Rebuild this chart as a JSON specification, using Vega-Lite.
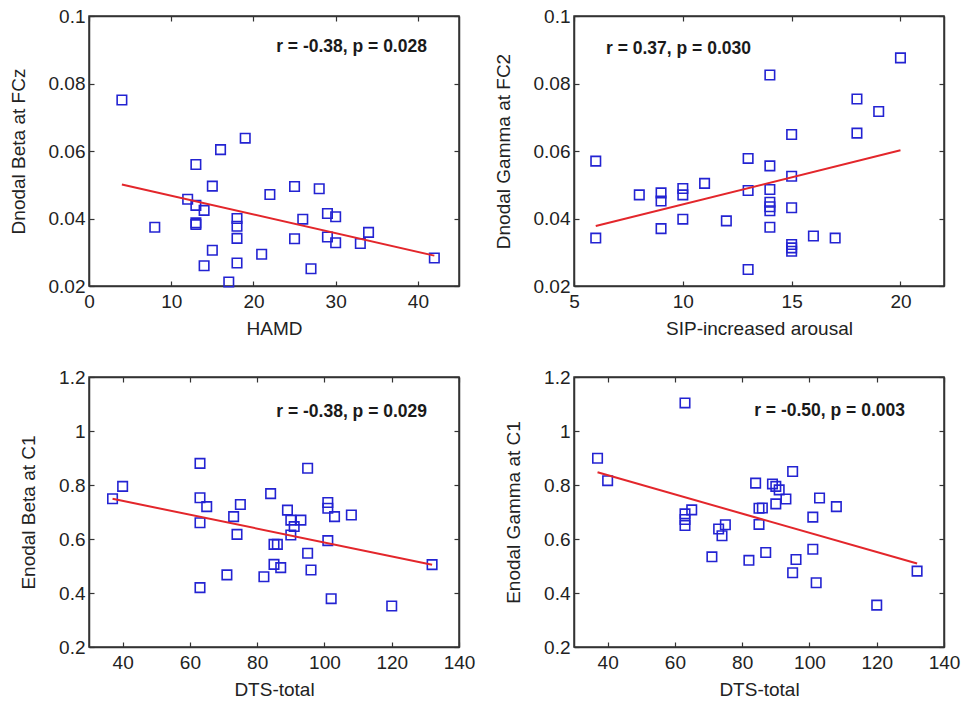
{
  "$schema": "https://vega.github.io/schema/vega-lite/v6.json",
  "padding": {"left": 8, "top": 6, "right": 5, "bottom": 2},
  "datasets": {
    "hamd": [
      {"x": 4, "y": 0.0751}, {"x": 19, "y": 0.0638}, {"x": 16, "y": 0.0604}, {"x": 13, "y": 0.056},
      {"x": 15, "y": 0.0496}, {"x": 25, "y": 0.0495}, {"x": 28, "y": 0.0488}, {"x": 22, "y": 0.0471},
      {"x": 12, "y": 0.0457}, {"x": 13, "y": 0.0439}, {"x": 14, "y": 0.0424}, {"x": 29, "y": 0.0415},
      {"x": 30, "y": 0.0405}, {"x": 18, "y": 0.04}, {"x": 26, "y": 0.0398}, {"x": 18, "y": 0.0377},
      {"x": 13, "y": 0.0387}, {"x": 13, "y": 0.0382}, {"x": 8, "y": 0.0374}, {"x": 34, "y": 0.0359},
      {"x": 18, "y": 0.0341}, {"x": 25, "y": 0.034}, {"x": 29, "y": 0.0345}, {"x": 30, "y": 0.0328},
      {"x": 33, "y": 0.0326}, {"x": 15, "y": 0.0306}, {"x": 21, "y": 0.0294}, {"x": 18, "y": 0.0268},
      {"x": 14, "y": 0.026}, {"x": 27, "y": 0.0251}, {"x": 17, "y": 0.0212}, {"x": 42, "y": 0.0283}
    ],
    "hamdLine": [{"x": 4, "y": 0.0501}, {"x": 42, "y": 0.029}],
    "sip": [
      {"x": 20, "y": 0.0876}, {"x": 14, "y": 0.0825}, {"x": 18, "y": 0.0754}, {"x": 19, "y": 0.0717},
      {"x": 18, "y": 0.0653}, {"x": 15, "y": 0.0649}, {"x": 6, "y": 0.057}, {"x": 13, "y": 0.0578},
      {"x": 14, "y": 0.0556}, {"x": 15, "y": 0.0525}, {"x": 11, "y": 0.0504}, {"x": 10, "y": 0.0489},
      {"x": 10, "y": 0.047}, {"x": 8, "y": 0.047}, {"x": 9, "y": 0.0476}, {"x": 9, "y": 0.0452},
      {"x": 13, "y": 0.0483}, {"x": 14, "y": 0.0486}, {"x": 14, "y": 0.0448}, {"x": 14, "y": 0.0435},
      {"x": 14, "y": 0.0423}, {"x": 15, "y": 0.0432}, {"x": 10, "y": 0.0398}, {"x": 12, "y": 0.0393},
      {"x": 9, "y": 0.037}, {"x": 14, "y": 0.0374}, {"x": 6, "y": 0.0342}, {"x": 16, "y": 0.0348},
      {"x": 17, "y": 0.0342}, {"x": 15, "y": 0.0323}, {"x": 15, "y": 0.0313}, {"x": 15, "y": 0.0303},
      {"x": 13, "y": 0.0249}
    ],
    "sipLine": [{"x": 6, "y": 0.0378}, {"x": 20, "y": 0.0602}],
    "dtsBeta": [
      {"x": 37, "y": 0.749}, {"x": 40, "y": 0.795}, {"x": 63, "y": 0.88}, {"x": 63, "y": 0.753},
      {"x": 65, "y": 0.72}, {"x": 63, "y": 0.66}, {"x": 63, "y": 0.42}, {"x": 75, "y": 0.728},
      {"x": 73, "y": 0.683}, {"x": 74, "y": 0.617}, {"x": 71, "y": 0.467}, {"x": 84, "y": 0.768},
      {"x": 89, "y": 0.707}, {"x": 90, "y": 0.67}, {"x": 93, "y": 0.67}, {"x": 91, "y": 0.646},
      {"x": 90, "y": 0.615}, {"x": 85, "y": 0.58}, {"x": 86, "y": 0.58}, {"x": 85, "y": 0.506},
      {"x": 87, "y": 0.494}, {"x": 82, "y": 0.46}, {"x": 95, "y": 0.862}, {"x": 95, "y": 0.547},
      {"x": 96, "y": 0.485}, {"x": 101, "y": 0.735}, {"x": 101, "y": 0.714}, {"x": 103, "y": 0.683},
      {"x": 108, "y": 0.689}, {"x": 101, "y": 0.594}, {"x": 102, "y": 0.379}, {"x": 120, "y": 0.352},
      {"x": 132, "y": 0.505}
    ],
    "dtsBetaLine": [{"x": 37, "y": 0.749}, {"x": 132, "y": 0.505}],
    "dtsGamma": [
      {"x": 63, "y": 1.104}, {"x": 37, "y": 0.899}, {"x": 40, "y": 0.816}, {"x": 63, "y": 0.693},
      {"x": 63, "y": 0.672}, {"x": 63, "y": 0.65}, {"x": 65, "y": 0.708}, {"x": 73, "y": 0.637},
      {"x": 75, "y": 0.653}, {"x": 74, "y": 0.612}, {"x": 71, "y": 0.534}, {"x": 82, "y": 0.521},
      {"x": 84, "y": 0.807}, {"x": 85, "y": 0.714}, {"x": 86, "y": 0.715}, {"x": 85, "y": 0.654},
      {"x": 87, "y": 0.55}, {"x": 89, "y": 0.804}, {"x": 90, "y": 0.795}, {"x": 91, "y": 0.782},
      {"x": 90, "y": 0.73}, {"x": 93, "y": 0.748}, {"x": 95, "y": 0.85}, {"x": 96, "y": 0.524},
      {"x": 95, "y": 0.475}, {"x": 101, "y": 0.681}, {"x": 103, "y": 0.752}, {"x": 108, "y": 0.72},
      {"x": 101, "y": 0.562}, {"x": 102, "y": 0.438}, {"x": 120, "y": 0.355}, {"x": 132, "y": 0.481}
    ],
    "dtsGammaLine": [{"x": 37, "y": 0.847}, {"x": 132, "y": 0.509}]
  },
  "columns": 2,
  "spacing": {"row": 91, "column": 115},
  "bounds": "flush",
  "concat": [
    {
      "width": 370, "height": 270,
      "layer": [
        {
          "data": {"name": "hamd"},
          "mark": {"type": "point", "shape": "square", "filled": false, "size": 90, "color": "#2323d2", "strokeWidth": 1.6, "opacity": 1},
          "encoding": {
            "x": {"field": "x", "type": "quantitative", "scale": {"domain": [0, 45], "nice": false, "zero": false},
                  "axis": {"title": "HAMD", "values": [0, 10, 20, 30, 40], "format": "d"}},
            "y": {"field": "y", "type": "quantitative", "scale": {"domain": [0.02, 0.1], "nice": false, "zero": false},
                  "axis": {"title": "Dnodal Beta at FCz", "values": [0.02, 0.04, 0.06, 0.08, 0.1], "format": ".2~f"}}
          }
        },
        {
          "data": {"name": "hamdLine"},
          "mark": {"type": "line", "color": "#e3262b", "strokeWidth": 2},
          "encoding": {
            "x": {"field": "x", "type": "quantitative", "axis": {"orient": "top", "labels": false, "title": null, "values": [0, 10, 20, 30, 40]}},
            "y": {"field": "y", "type": "quantitative", "axis": {"orient": "right", "labels": false, "title": null, "values": [0.02, 0.04, 0.06, 0.08, 0.1]}}
          }
        },
        {
          "data": {"values": [{"label": "r = -0.38, p = 0.028"}]},
          "mark": {"type": "text", "align": "right", "baseline": "middle", "font": "Liberation Sans", "fontWeight": "bold", "fontSize": 17.5, "color": "#1a1a1a"},
          "encoding": {
            "text": {"field": "label"},
            "x": {"datum": 41.1, "type": "quantitative", "axis": null},
            "y": {"datum": 0.0909, "type": "quantitative", "axis": null}
          }
        }
      ],
      "resolve": {"axis": {"x": "independent", "y": "independent"}}
    },
    {
      "width": 370, "height": 270,
      "layer": [
        {
          "data": {"name": "sip"},
          "mark": {"type": "point", "shape": "square", "filled": false, "size": 90, "color": "#2323d2", "strokeWidth": 1.6, "opacity": 1},
          "encoding": {
            "x": {"field": "x", "type": "quantitative", "scale": {"domain": [5, 22], "nice": false, "zero": false},
                  "axis": {"title": "SIP-increased arousal", "values": [5, 10, 15, 20], "format": "d"}},
            "y": {"field": "y", "type": "quantitative", "scale": {"domain": [0.02, 0.1], "nice": false, "zero": false},
                  "axis": {"title": "Dnodal Gamma at FC2", "values": [0.02, 0.04, 0.06, 0.08, 0.1], "format": ".2~f"}}
          }
        },
        {
          "data": {"name": "sipLine"},
          "mark": {"type": "line", "color": "#e3262b", "strokeWidth": 2},
          "encoding": {
            "x": {"field": "x", "type": "quantitative", "axis": {"orient": "top", "labels": false, "title": null, "values": [5, 10, 15, 20]}},
            "y": {"field": "y", "type": "quantitative", "axis": {"orient": "right", "labels": false, "title": null, "values": [0.02, 0.04, 0.06, 0.08, 0.1]}}
          }
        },
        {
          "data": {"values": [{"label": "r = 0.37, p = 0.030"}]},
          "mark": {"type": "text", "align": "left", "baseline": "middle", "font": "Liberation Sans", "fontWeight": "bold", "fontSize": 17.5, "color": "#1a1a1a"},
          "encoding": {
            "text": {"field": "label"},
            "x": {"datum": 6.47, "type": "quantitative", "axis": null},
            "y": {"datum": 0.0903, "type": "quantitative", "axis": null}
          }
        }
      ],
      "resolve": {"axis": {"x": "independent", "y": "independent"}}
    },
    {
      "width": 370, "height": 270,
      "layer": [
        {
          "data": {"name": "dtsBeta"},
          "mark": {"type": "point", "shape": "square", "filled": false, "size": 90, "color": "#2323d2", "strokeWidth": 1.6, "opacity": 1},
          "encoding": {
            "x": {"field": "x", "type": "quantitative", "scale": {"domain": [30, 140], "nice": false, "zero": false},
                  "axis": {"title": "DTS-total", "values": [40, 60, 80, 100, 120, 140], "format": "d"}},
            "y": {"field": "y", "type": "quantitative", "scale": {"domain": [0.2, 1.2], "nice": false, "zero": false},
                  "axis": {"title": "Enodal Beta at C1", "values": [0.2, 0.4, 0.6, 0.8, 1, 1.2], "format": ".1~f"}}
          }
        },
        {
          "data": {"name": "dtsBetaLine"},
          "mark": {"type": "line", "color": "#e3262b", "strokeWidth": 2},
          "encoding": {
            "x": {"field": "x", "type": "quantitative", "axis": {"orient": "top", "labels": false, "title": null, "values": [40, 60, 80, 100, 120, 140]}},
            "y": {"field": "y", "type": "quantitative", "axis": {"orient": "right", "labels": false, "title": null, "values": [0.2, 0.4, 0.6, 0.8, 1, 1.2]}}
          }
        },
        {
          "data": {"values": [{"label": "r = -0.38, p = 0.029"}]},
          "mark": {"type": "text", "align": "right", "baseline": "middle", "font": "Liberation Sans", "fontWeight": "bold", "fontSize": 17.5, "color": "#1a1a1a"},
          "encoding": {
            "text": {"field": "label"},
            "x": {"datum": 130.5, "type": "quantitative", "axis": null},
            "y": {"datum": 1.071, "type": "quantitative", "axis": null}
          }
        }
      ],
      "resolve": {"axis": {"x": "independent", "y": "independent"}}
    },
    {
      "width": 370, "height": 270,
      "layer": [
        {
          "data": {"name": "dtsGamma"},
          "mark": {"type": "point", "shape": "square", "filled": false, "size": 90, "color": "#2323d2", "strokeWidth": 1.6, "opacity": 1},
          "encoding": {
            "x": {"field": "x", "type": "quantitative", "scale": {"domain": [30, 140], "nice": false, "zero": false},
                  "axis": {"title": "DTS-total", "values": [40, 60, 80, 100, 120, 140], "format": "d"}},
            "y": {"field": "y", "type": "quantitative", "scale": {"domain": [0.2, 1.2], "nice": false, "zero": false},
                  "axis": {"title": "Enodal Gamma at C1", "values": [0.2, 0.4, 0.6, 0.8, 1, 1.2], "format": ".1~f"}}
          }
        },
        {
          "data": {"name": "dtsGammaLine"},
          "mark": {"type": "line", "color": "#e3262b", "strokeWidth": 2},
          "encoding": {
            "x": {"field": "x", "type": "quantitative", "axis": {"orient": "top", "labels": false, "title": null, "values": [40, 60, 80, 100, 120, 140]}},
            "y": {"field": "y", "type": "quantitative", "axis": {"orient": "right", "labels": false, "title": null, "values": [0.2, 0.4, 0.6, 0.8, 1, 1.2]}}
          }
        },
        {
          "data": {"values": [{"label": "r = -0.50, p = 0.003"}]},
          "mark": {"type": "text", "align": "right", "baseline": "middle", "font": "Liberation Sans", "fontWeight": "bold", "fontSize": 17.5, "color": "#1a1a1a"},
          "encoding": {
            "text": {"field": "label"},
            "x": {"datum": 128.4, "type": "quantitative", "axis": null},
            "y": {"datum": 1.075, "type": "quantitative", "axis": null}
          }
        }
      ],
      "resolve": {"axis": {"x": "independent", "y": "independent"}}
    }
  ],
  "config": {
    "view": {"stroke": "#333333", "strokeWidth": 1.5},
    "axis": {
      "labelFont": "Liberation Sans", "labelFontSize": 19, "labelColor": "#222222",
      "titleFont": "Liberation Sans", "titleFontSize": 19, "titleFontWeight": "normal", "titleColor": "#222222",
      "domainColor": "#333333", "domainWidth": 1.5, "tickColor": "#333333", "tickWidth": 1.2, "tickSize": -5,
      "grid": false, "labelFlush": false, "labelOverlap": false
    },
    "axisX": {"labelPadding": 11, "titlePadding": 8},
    "axisY": {"labelPadding": 9, "titlePadding": 20}
  }
}
